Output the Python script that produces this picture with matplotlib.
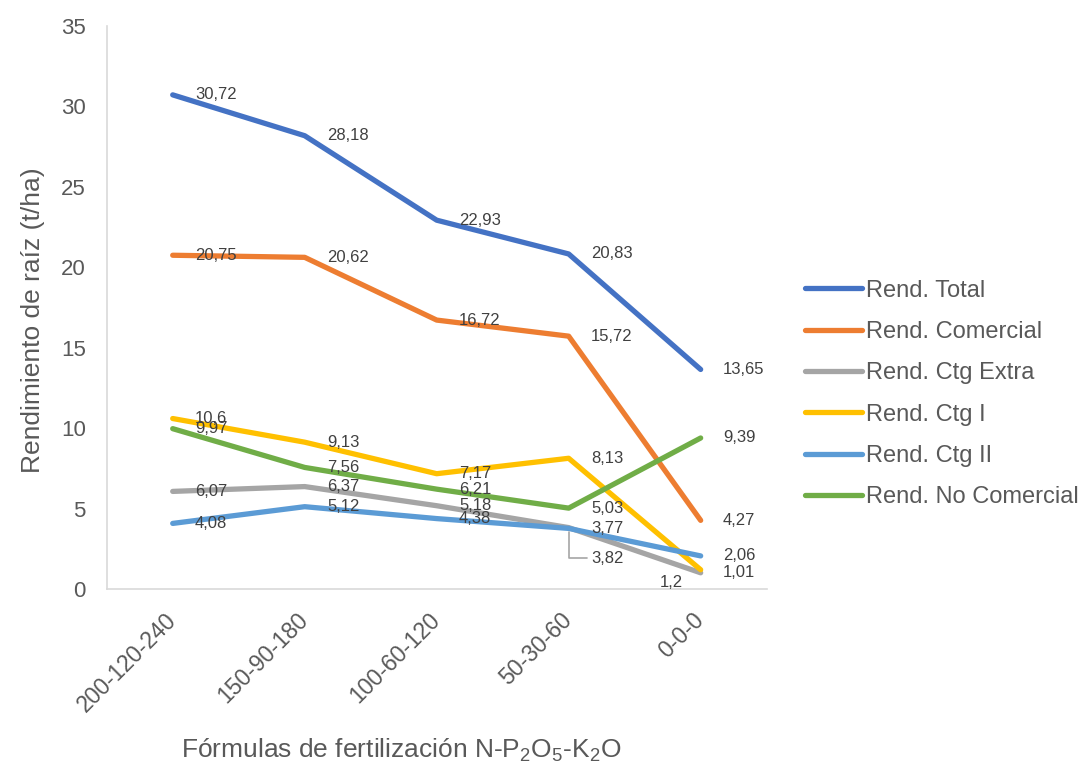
import matplotlib
matplotlib.use("Agg")
import matplotlib.pyplot as plt

plt.rcParams["font.family"] = ["Liberation Sans", "DejaVu Sans"]

formulas = ["200-120-240", "150-90-180", "100-60-120", "50-30-60", "0-0-0"]

rend_total = [30.72, 28.18, 22.93, 20.83, 13.65]
rend_comercial = [20.75, 20.62, 16.72, 15.72, 4.27]
rend_ctg_extra = [6.07, 6.37, 5.18, 3.82, 1.01]
rend_ctg_i = [10.6, 9.13, 7.17, 8.13, 1.2]
rend_ctg_ii = [4.08, 5.12, 4.38, 3.77, 2.06]
rend_no_comercial = [9.97, 7.56, 6.21, 5.03, 9.39]

series = [
    ("Rend. Total", rend_total, "#4472C4"),
    ("Rend. Comercial", rend_comercial, "#ED7D31"),
    ("Rend. Ctg Extra", rend_ctg_extra, "#A5A5A5"),
    ("Rend. Ctg I", rend_ctg_i, "#FFC000"),
    ("Rend. Ctg II", rend_ctg_ii, "#5B9BD5"),
    ("Rend. No Comercial", rend_no_comercial, "#70AD47"),
]

text_col = "#595959"
label_col = "#404040"

fig = plt.figure(figsize=(10.89, 7.65), dpi=100)
ax = fig.add_axes([0.098, 0.230, 0.606, 0.736])

x = list(range(len(formulas)))
for name, vals, col in series:
    ax.plot(x, vals, color=col, lw=3.8, label=name,
            solid_capstyle="round", solid_joinstyle="round")
    for i, v in enumerate(vals):
        txt = f"{v:g}".replace(".", ",")
        if name == "Rend. Ctg Extra" and i == 3:
            # label pulled down with a leader line
            ax.annotate(txt, xy=(i, v), xytext=(16, -22), textcoords="offset points",
                        ha="left", va="center", fontsize=12, color=label_col,
                        arrowprops=dict(arrowstyle="-", color="#A5A5A5", lw=1.2,
                                        shrinkA=1, shrinkB=3,
                                        connectionstyle="angle,angleA=0,angleB=90,rad=0"))
        elif name == "Rend. Ctg I" and i == 4:
            ax.annotate(txt, xy=(i, v), xytext=(-21, -9), textcoords="offset points",
                        ha="center", va="center", fontsize=12, color=label_col)
        else:
            ax.annotate(txt, xy=(i, v), xytext=(16, 0), textcoords="offset points",
                        ha="left", va="center", fontsize=12, color=label_col)

ax.set_xlim(-0.5, len(formulas) - 0.5)
ax.set_ylim(0, 35)
ax.set_yticks(range(0, 36, 5))
ax.set_xticks(x)
ax.set_xticklabels(formulas, rotation=45, ha="right", va="center",
                   rotation_mode="anchor")

ax.tick_params(axis="y", length=0, pad=15, labelsize=16, labelcolor=text_col)
ax.tick_params(axis="x", length=0, pad=20, labelsize=16.5, labelcolor=text_col)

for s in ["top", "right"]:
    ax.spines[s].set_visible(False)
ax.spines["left"].set_color("#D9D9D9")
ax.spines["bottom"].set_color("#D9D9D9")
ax.spines["left"].set_linewidth(1.2)
ax.spines["bottom"].set_linewidth(1.2)

ax.set_ylabel("Rendimiento de raíz (t/ha)", fontsize=19, color=text_col)
ax.yaxis.set_label_coords(-0.094, 0.478)
ax.set_xlabel(r"Fórmulas de fertilización N-P$_\mathregular{2}$O$_\mathregular{5}$-K$_\mathregular{2}$O",
              fontsize=19, color=text_col)
ax.xaxis.set_label_coords(0.447, -0.262)

fig.legend(loc="center left", bbox_to_anchor=(0.720, 0.485), frameon=False,
           fontsize=17, handlelength=2.42, handletextpad=0.15, labelspacing=0.82,
           labelcolor=text_col)

fig.savefig("out.png", dpi=100)
